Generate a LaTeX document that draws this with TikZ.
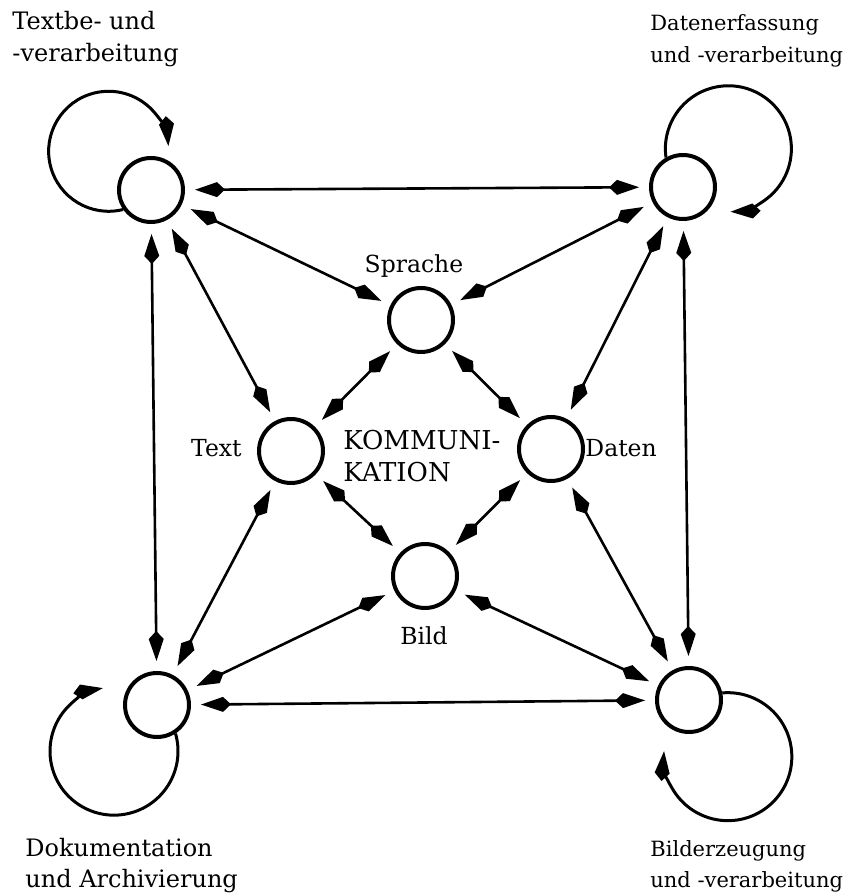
\documentclass[tikz,border=0pt]{standalone}
\usepackage{fontspec}
\setmainfont{DejaVu Serif}
\usetikzlibrary{arrows.meta}
\tikzset{
    area/.style =   {circle,
                    fill=white,
                    draw=black,
                    line width=2pt,
                    inner sep=0pt,
                    minimum size=32pt},
    caption/.style = {anchor=base west,
                    align=left,
                    inner sep=0pt,
                    font=\fontsize{12}{16}\selectfont},
    rcaption/.style = {caption,
                    font=\fontsize{10.5}{16}\selectfont},
    tag/.style =    {inner sep=0pt,
                    font=\fontsize{11.75}{16}\selectfont},
    link/.style =   {line width=1.3pt,
                    <->,
                    shorten >=5pt,
                    shorten <=5pt},
    selfloop/.style = {line width=1.5pt,
                    ->},
    >={Kite[length=15pt,width=7.5pt,inset=4pt]}}

\begin{document}
\begin{tikzpicture}[x=0.5pt,y=0.5pt]
    \useasboundingbox (0,0) rectangle (859,895);
    % corners
    \node[area] (tl) at (151,705) {};
    \node[area] (tr) at (683,708) {};
    \node[area] (bl) at (157,190) {};
    \node[area] (br) at (689,195) {};
    % media
    \node[area] (sp) at (421,575) {};
    \node[area] (tx) at (291,444) {};
    \node[area] (da) at (551,446) {};
    \node[area] (bi) at (425,319) {};

    \node[caption]  (tltext) at (12,833)  {Textbe- und\\-verarbeitung};
    \node[rcaption] (trtext) at (650,832) {Datenerfassung\\und -verarbeitung};
    \node[caption]  (bltext) at (25,7)    {Dokumentation\\und Archivierung};
    \node[rcaption] (brtext) at (650,7)   {Bilderzeugung\\und -verarbeitung};
    \node[tag, anchor=base]      (sptext) at (414,622) {Sprache};
    \node[tag, anchor=base]      (bitext) at (424,250) {Bild};
    \node[tag, anchor=base east] (txtext) at (242,438) {Text};
    \node[tag, anchor=base west] (datext) at (585,438) {Daten};
    \node[caption, font=\fontsize{13}{16}\selectfont] (mid) at (343,413) {KOMMUNI-\\KATION};

    \path [link]    (tl) edge (tr)
                    (tl) edge (sp)
                    (tl) edge (tx)
                    (tl) edge (bl)
                    (tr) edge (sp)
                    (tr) edge (da)
                    (tr) edge (br)
                    (sp) edge (tx)
                    (sp) edge (da)
                    (tx) edge (bi)
                    (da) edge (bi)
                    (tx) edge (bl)
                    (da) edge (br)
                    (bi) edge (bl)
                    (bi) edge (br)
                    (bl) edge (br);

    % self loops
    \draw [selfloop] (tl.215) arc[start angle=284, end angle=5, radius=60];
    \draw [selfloop] (tr.120) arc[start angle=188, end angle=-88, radius=63];
    \draw [selfloop] (bl.-57) arc[start angle=16, end angle=-260, radius=64];
    \draw [selfloop] (br.12)  arc[start angle=95, end angle=-185, radius=64];
\end{tikzpicture}
\end{document}
